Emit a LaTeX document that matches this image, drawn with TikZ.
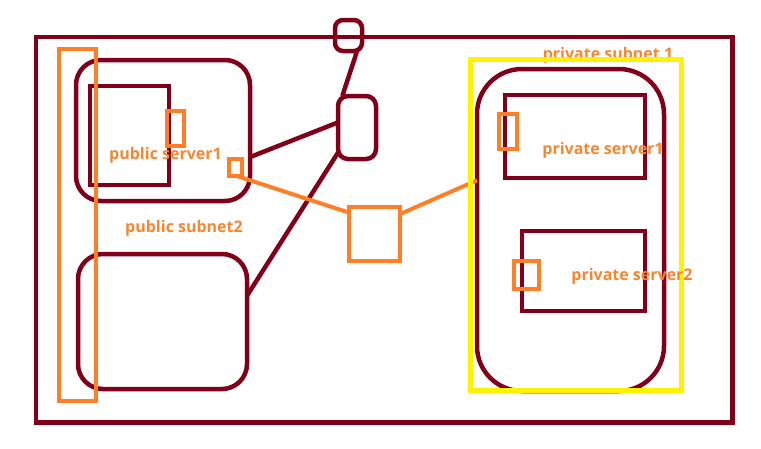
\documentclass[tikz,border=0pt]{standalone}
\usepackage{fontspec}
\setmainfont{Open Sans}
\definecolor{dred}{RGB}{128,0,26}
\definecolor{orng}{RGB}{255,127,39}
\definecolor{txtor}{RGB}{245,135,50}
\definecolor{yel}{RGB}{255,242,0}
\begin{document}
\begin{tikzpicture}[x=1pt,y=-1pt,
  dbox/.style={draw=dred, line width=4.5pt, inner sep=0pt, outer sep=0pt},
  obox/.style={draw=orng, line width=4pt, inner sep=0pt, outer sep=0pt},
  ybox/.style={draw=yel, line width=5pt, inner sep=0pt, outer sep=0pt},
  dline/.style={draw=dred, line width=4.5pt},
  oline/.style={draw=orng, line width=4pt},
  lbl/.style={text=txtor, font=\bfseries\fontsize{16}{18}\selectfont, inner sep=0pt}]
\useasboundingbox (0,0) rectangle (761,448);
% outer frame
\node[dbox, minimum width=696.5pt, minimum height=385.5pt] (outer) at (384.25,229.75) {};
% label under yellow frame
\node[lbl] (lsub1) at (608,55) {private subnet 1};
% public side
\node[dbox, rounded corners=25pt, minimum width=174pt, minimum height=141pt] (pub1) at (163,130.5) {};
\node[dbox, minimum width=79pt, minimum height=99pt] (psrv1) at (129.5,135.5) {};
\node[dbox, rounded corners=25pt, minimum width=169pt, minimum height=135pt] (pub2) at (162.5,321.5) {};
% gateways
\node[dbox, rounded corners=8pt, minimum width=27pt, minimum height=31pt] (top) at (348.5,35.5) {};
\node[dbox, rounded corners=10pt, minimum width=38pt, minimum height=63pt] (mid) at (357,127.5) {};
% private side
\node[dbox, rounded corners=45pt, minimum width=187pt, minimum height=322pt] (priv) at (570.5,230) {};
\node[dbox, minimum width=140pt, minimum height=83pt] (vsrv1) at (575,136.5) {};
\node[dbox, minimum width=123pt, minimum height=80pt] (vsrv2) at (583.5,271) {};
% dark connectors
\draw[dline] (top.-61) -- (mid.115);
\draw[dline] (pub1.-17) -- (mid.165);
\draw[dline] (mid.233) -- (pub2.17);
% orange elements
\node[obox, minimum width=37pt, minimum height=352pt] (otall) at (77.5,225) {};
\node[obox, minimum width=17pt, minimum height=35pt] (o1) at (175.5,128.5) {};
\node[obox, minimum width=13pt, minimum height=17pt] (osq) at (235.5,167.5) {};
\node[obox, minimum width=51pt, minimum height=54pt] (csq) at (374.5,234) {};
\node[obox, minimum width=18pt, minimum height=35pt] (o2) at (508,131.5) {};
\node[obox, minimum width=25pt, minimum height=28pt] (o3) at (526.5,275) {};
\draw[oline] (osq.-81) -- (csq.140);
\draw[oline] (csq.38) -- (priv.152);
% yellow frame
\node[ybox, minimum width=211pt, minimum height=331pt] (yel) at (575.5,224.5) {};
% labels
\node[lbl] (lps1) at (165.5,155) {public server1};
\node[lbl] (lpsub2) at (184,228) {public subnet2};
\node[lbl] (lvs1) at (603,150) {private server1};
\node[lbl] (lvs2) at (632,276) {private server2};
\end{tikzpicture}
\end{document}
